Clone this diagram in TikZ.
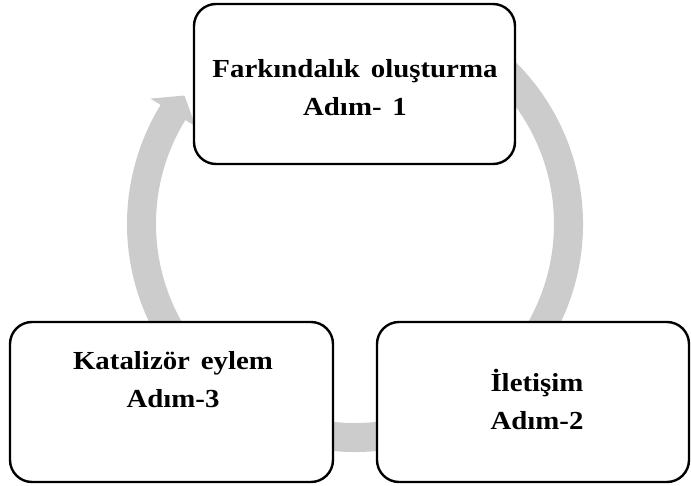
\documentclass[tikz,border=0pt]{standalone}
\usepackage{fontspec}
\setmainfont{Liberation Serif}[FakeStretch=1.11, WordSpace=1.5]
\usetikzlibrary{calc}
\definecolor{ringgray}{RGB}{204,204,204}
\tikzset{
  stepbox/.style={draw=black, line width=2.4pt, fill=white, rounded corners=22pt,
    inner sep=0pt},
  steplabel/.style={align=center, inner sep=0pt,
    font=\bfseries\fontsize{26}{38}\selectfont}
}
\begin{document}
\begin{tikzpicture}[x=1pt, y=1pt]
\useasboundingbox (0,0) rectangle (691,-486);
% cycle arrow behind the boxes
\coordinate (ringc) at (355,-224);
\fill[ringgray] ($(ringc)+(60:228)$)
  arc[start angle=60, end angle=-211.5, radius=228]
  -- ($(ringc)+(-211.5:240)$)
  -- ($(ringc)+(-217:213.5)$)
  -- ($(ringc)+(-211.5:187)$)
  -- ($(ringc)+(-211.5:199)$)
  arc[start angle=-211.5, end angle=60, radius=199]
  -- cycle;
% the three steps
\node[stepbox, minimum width=321pt, minimum height=160pt] (s1) at (354.5,-84) {};
\node[stepbox, minimum width=312pt, minimum height=160pt] (s2) at (533,-402) {};
\node[stepbox, minimum width=323pt, minimum height=160pt] (s3) at (171.5,-402) {};
\node[steplabel] (t1) at (355,-88) {Farkındalık oluşturma\\Adım- 1};
\node[steplabel] (t2) at (537,-399) {İletişim\\Adım-2};
\node[steplabel] (t3) at (173,-380) {Katalizör eylem\\Adım-3};
\end{tikzpicture}
\end{document}
